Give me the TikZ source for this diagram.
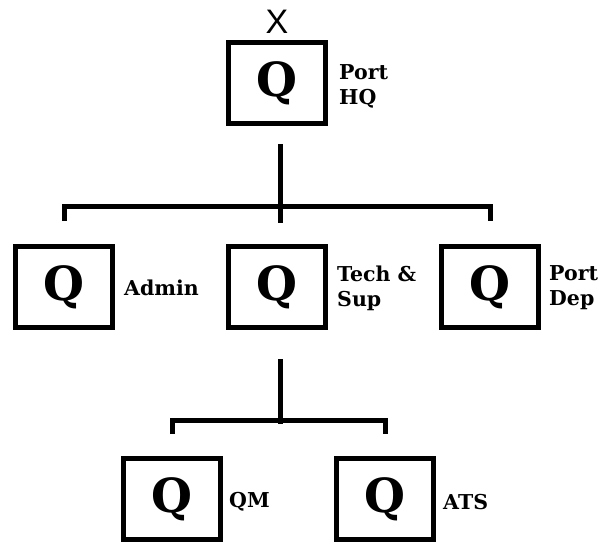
\documentclass[tikz,border=0pt]{standalone}
\usepackage{fontspec}
\setmainfont{DejaVu Serif}
\newfontfamily\markfont{Liberation Sans}
\usetikzlibrary{positioning}

\begin{document}
\begin{tikzpicture}[x=1pt, y=1pt, node distance=204pt]
% Define styles
\tikzstyle{unit} = [rectangle, draw=black, line width=5pt, minimum width=97pt, minimum height=81pt, inner sep=0pt, font=\bfseries\fontsize{47}{47}\selectfont]
\tikzstyle{tag} = [anchor=west, inner sep=0pt, align=left, font=\bfseries\fontsize{20.5}{25}\selectfont]
\tikzstyle{link} = [line width=5pt, line join=miter]

\useasboundingbox (0,0) rectangle (605,542);

% Units
\node (hq) [unit] at (277,459) {Q};
\node (tech) [unit, below of=hq] {Q};
\node (admin) [unit, left of=tech, node distance=213pt] {Q};
\node (portdep) [unit, right of=tech, node distance=213pt] {Q};
\node (qm) [unit, below of=tech, node distance=212pt, xshift=-105pt] {Q};
\node (ats) [unit, below of=tech, node distance=212pt, xshift=108pt] {Q};

% Mark above the top unit
\node (mark) [above of=hq, node distance=61pt, inner sep=0pt, font=\markfont\fontsize{34}{34}\selectfont] {X};

% Labels
\node (hqlbl) [tag] at ([xshift=11pt, yshift=-3pt]hq.east) {Port\\HQ};
\node (adminlbl) [tag] at ([xshift=9pt, yshift=-1pt]admin.east) {Admin};
\node (techlbl) [tag] at ([xshift=9pt, yshift=-1pt]tech.east) {Tech \&\\Sup};
\node (portdeplbl) [tag] at ([xshift=8pt, yshift=-1pt]portdep.east) {Port\\Dep};
\node (qmlbl) [tag] at ([xshift=6pt, yshift=-3pt]qm.east) {QM};
\node (atslbl) [tag] at ([xshift=7pt, yshift=-3pt]ats.east) {ATS};

% Connectors
\draw [link] ([xshift=3pt, yshift=-18pt]hq.south) -- ([xshift=3pt, yshift=-97pt]hq.south);
\draw [link] ([yshift=23pt]admin.north) -- ([yshift=38pt]admin.north) -- ([yshift=38pt]portdep.north) -- ([yshift=23pt]portdep.north);
\draw [link] ([xshift=3pt, yshift=-29pt]tech.south) -- ([xshift=3pt, yshift=-94pt]tech.south);
\draw [link] ([yshift=22pt]qm.north) -- ([yshift=36pt]qm.north) -- ([yshift=36pt]ats.north) -- ([yshift=22pt]ats.north);

\end{tikzpicture}
\end{document}
